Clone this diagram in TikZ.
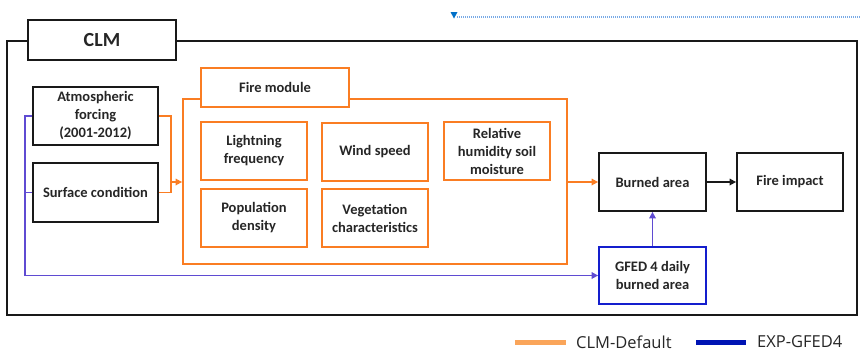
\documentclass[tikz,border=0pt]{standalone}
\usepackage{fontspec}
\setmainfont{Carlito}
\newfontfamily\legfont{Open Sans}
\usetikzlibrary{arrows.meta}
\definecolor{fireor}{RGB}{250,125,35}
\definecolor{legor}{RGB}{250,165,90}
\definecolor{gfedblue}{RGB}{20,30,205}
\definecolor{linkblue}{RGB}{95,75,210}
\definecolor{legblue}{RGB}{0,20,180}
\definecolor{dotblue}{RGB}{120,170,230}
\definecolor{tribl}{RGB}{0,112,200}
\tikzset{
  txt/.style={font=\fontsize{14.5}{18}\selectfont\bfseries, align=center, text=black!85},
  blackbox/.style={txt, draw=black!90, line width=1.8pt, fill=white, inner sep=0pt},
  orbox/.style={txt, draw=fireor, line width=1.8pt, fill=white, inner sep=0pt},
  bluebox/.style={txt, draw=gfedblue, line width=1.8pt, fill=white, inner sep=0pt},
  arr/.style={-{Triangle[length=6.5pt,width=6.5pt]}},
  orline/.style={draw=fireor, line width=1.6pt},
  blline/.style={draw=linkblue, line width=1.6pt},
  legtxt/.style={font=\legfont\fontsize{16.5}{20}\selectfont, anchor=west, inner sep=0pt, text=black!85}
}
\begin{document}
\begin{tikzpicture}[x=1pt,y=-1pt]
\useasboundingbox (0,0) rectangle (860,356);
% top dotted marker
\fill[tribl] (450.5,12) -- (457.5,12) -- (454,18.5) -- cycle;
\draw[dotblue, line width=1.5pt, dash pattern=on 1pt off 1pt] (457,17) -- (860,17);
% CLM frame
\draw[black!90, line width=1.8pt] (7,41) rectangle (857,315);
\node[blackbox, minimum width=148pt, minimum height=40pt, font=\fontsize{20}{24}\selectfont\bfseries] (clm) at (102,40) {CLM};
% inputs
\node[blackbox, minimum width=125pt, minimum height=58pt] (atm) at (95.5,116) {Atmospheric\\forcing\\(2001-2012)};
\node[blackbox, minimum width=125pt, minimum height=59pt] (surf) at (95.5,192.5) {Surface condition};
% fire module
\node[orbox, minimum width=384pt, minimum height=165pt] (fire) at (375,181.5) {};
\node[orbox, minimum width=148pt, minimum height=39pt] (firelab) at (275,87.5) {Fire module};
\node[orbox, minimum width=106pt, minimum height=58pt] (light) at (254,151) {Lightning\\frequency};
\node[orbox, minimum width=106pt, minimum height=58pt] (wind) at (375,152) {Wind speed};
\node[orbox, minimum width=106pt, minimum height=58pt] (rh) at (497,151) {Relative\\humidity soil\\moisture};
\node[orbox, minimum width=106pt, minimum height=58pt] (pop) at (254,218) {Population\\density};
\node[orbox, minimum width=106pt, minimum height=58pt] (veg) at (375,218) {Vegetation\\characteristics};
% outputs
\node[blackbox, minimum width=107pt, minimum height=58pt] (burn) at (652.5,182) {Burned area};
\node[blackbox, minimum width=106pt, minimum height=58pt] (impact) at (790,182) {Fire impact};
\node[bluebox, minimum width=107pt, minimum height=57pt] (gfed) at (652.5,275.5) {GFED 4 daily\\burned area};
% orange connectors
\coordinate (jn) at (171,182);
\draw[orline] (atm.east) -| (jn);
\draw[orline] (surf.east) -| (jn);
\draw[orline, arr] (jn) -- (jn -| fire.west);
\draw[orline, arr] (burn.west -| fire.east) -- (burn.west);
% black connector
\draw[black!90, line width=1.6pt, arr] (burn.east) -- (impact.west);
% blue connectors
\coordinate (bl) at (25,275.5);
\draw[blline] (atm.west) -- (atm.west -| bl) -- (bl);
\draw[blline] (surf.west) -- (surf.west -| bl);
\draw[blline, arr] (bl) -- (gfed.west);
\draw[blline, arr] (gfed.north) -- (burn.south);
% legend
\draw[legor, line width=5pt] (515,342) -- (566,342);
\node[legtxt] (l1) at (576,342) {CLM-Default};
\draw[legblue, line width=5pt] (696,342) -- (746,342);
\node[legtxt] (l2) at (757,342) {EXP-GFED4};
\end{tikzpicture}
\end{document}
